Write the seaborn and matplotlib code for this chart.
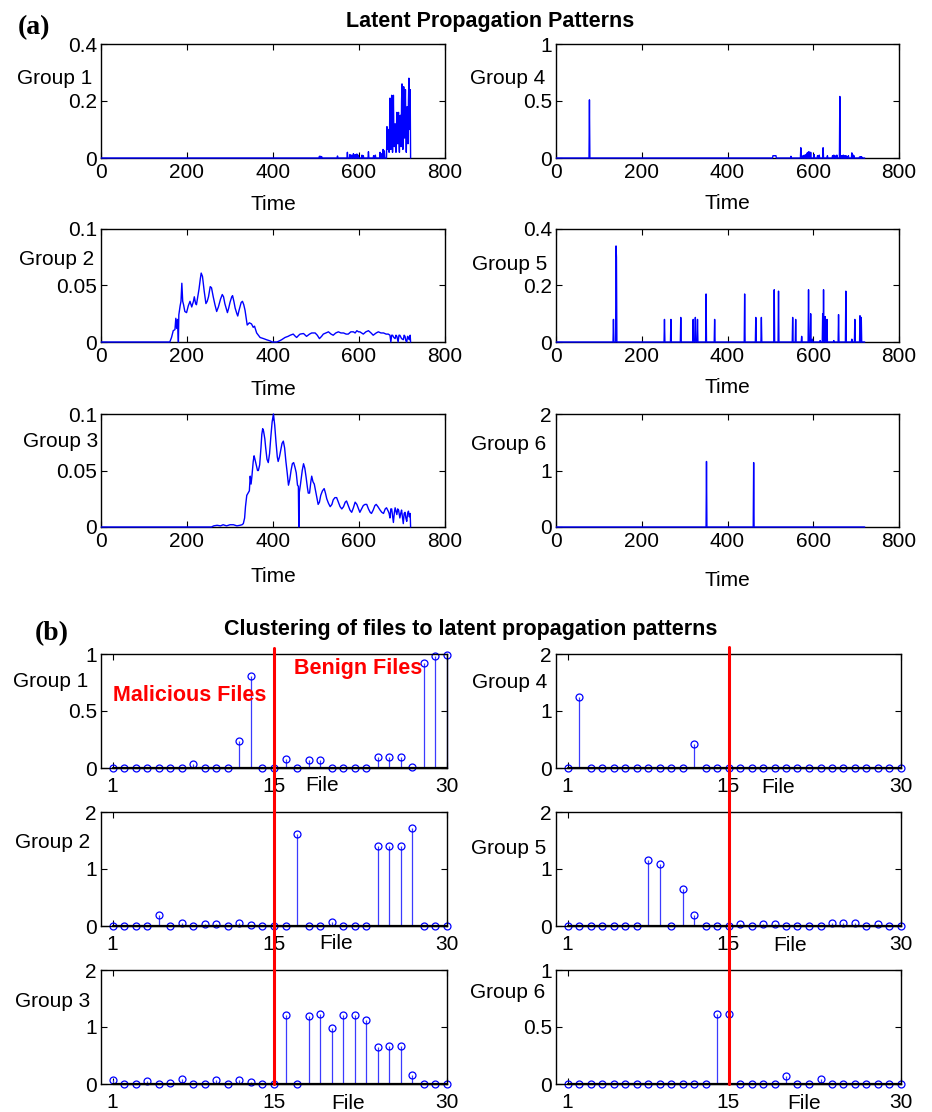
import numpy as np
import matplotlib
matplotlib.use("Agg")
import matplotlib.pyplot as plt
import matplotlib.transforms as mtransforms
from matplotlib.lines import Line2D
from matplotlib.ticker import FormatStrFormatter
import seaborn as sns

# ---------------- (a) latent propagation patterns ----------------
n_days = 720
days = np.arange(1, n_days + 1)

# group 1: small blips, then a dense burst near the end
g1_blip_t = [508, 510, 513, 550, 573, 579, 583, 587, 591, 595, 598, 607, 610, 622, 634, 638, 649, 653, 656, 659]
g1_blip_v = [0.006, 0.006, 0.005, 0.007, 0.02, 0.012, 0.01, 0.015, 0.012, 0.014, 0.01, 0.01, 0.008, 0.022,
             0.008, 0.01, 0.02, 0.015, 0.03, 0.025]
g1_burst_t = [663, 664, 665, 666, 667, 668, 670, 671, 672, 673, 674, 675, 676, 677, 678, 679, 680, 681, 682,
              684, 685, 686, 687, 688, 689, 690, 691, 692, 693, 694, 695, 696, 697, 698, 699, 700, 701, 702,
              703, 704, 705, 706, 707, 708, 709, 710, 711, 712, 713, 714, 715, 716, 717, 718, 719, 720]
g1_burst_v = [0.0, 0.0, 0.11, 0.1, 0.03, 0.1, 0.02, 0.09, 0.21, 0.05, 0.03, 0.14, 0.22, 0.1, 0.02, 0.08, 0.22,
              0.09, 0.04, 0.12, 0.05, 0.02, 0.1, 0.16, 0.08, 0.05, 0.15, 0.16, 0.06, 0.02, 0.12, 0.15, 0.07,
              0.04, 0.2, 0.26, 0.12, 0.03, 0.15, 0.25, 0.2, 0.07, 0.16, 0.24, 0.1, 0.02, 0.12, 0.18, 0.1, 0.05,
              0.2, 0.28, 0.18, 0.1, 0.24, 0.0]

# group 2: smooth wave starting around day 160
g2_t = [1, 160, 164, 168, 172, 174, 176, 178, 180, 181, 184, 186, 188, 190, 192, 195, 199, 203, 207, 211, 215,
        217, 220, 222, 226, 228, 231, 233, 236, 240, 244, 247, 250, 254, 257, 261, 265, 269, 273, 278, 282,
        285, 288, 294, 297, 300, 304, 306, 309, 312, 316, 318, 321, 326, 329, 332, 335, 338, 340, 345, 350,
        354, 357, 362, 366, 370, 378, 385, 393, 398, 409, 415, 420, 428, 435, 440, 447, 452, 455, 460, 463,
        471, 475, 478, 485, 490, 498, 503, 508, 513, 517, 523, 529, 535, 540, 546, 552, 558, 564, 570, 575,
        581, 587, 591, 595, 599, 602, 606, 610, 616, 622, 628, 633, 640, 645, 651, 657, 663, 668, 672, 674,
        676, 678, 681, 684, 686, 688, 691, 693, 695, 699, 703, 705, 707, 709, 711, 713, 715, 717, 719, 720]
g2_v = [0, 0, 0.004, 0.01, 0.011, 0.021, 0.012, 0.02, 0.0, 0.024, 0.032, 0.036, 0.052, 0.036, 0.033, 0.027,
        0.026, 0.032, 0.036, 0.031, 0.036, 0.04, 0.034, 0.033, 0.042, 0.047, 0.056, 0.061, 0.058, 0.045, 0.034,
        0.036, 0.04, 0.049, 0.048, 0.04, 0.033, 0.027, 0.031, 0.038, 0.042, 0.04, 0.034, 0.026, 0.03, 0.035,
        0.04, 0.041, 0.036, 0.03, 0.025, 0.023, 0.028, 0.035, 0.036, 0.033, 0.028, 0.02, 0.015, 0.017, 0.016,
        0.013, 0.014, 0.008, 0.006, 0.004, 0.003, 0.002, 0.001, 0.0, 0.0, 0.001, 0.002, 0.004, 0.005, 0.006,
        0.007, 0.005, 0.004, 0.006, 0.007, 0.0075, 0.006, 0.005, 0.007, 0.008, 0.008, 0.006, 0.003, 0.005,
        0.007, 0.008, 0.009, 0.007, 0.006, 0.008, 0.009, 0.008, 0.008, 0.007, 0.007, 0.009, 0.009, 0.008, 0.01,
        0.009, 0.009, 0.008, 0.007, 0.009, 0.01, 0.008, 0.006, 0.008, 0.009, 0.008, 0.008, 0.007, 0.007, 0.006,
        0.0, 0.006, 0.006, 0.004, 0.003, 0.006, 0.005, 0.0, 0.006, 0.006, 0.003, 0.002, 0.006, 0.005, 0.001,
        0.0, 0.005, 0.004, 0.002, 0.006, 0.0]

# group 3: wave peaking around day 400
g3_t = [1, 257, 262, 270, 278, 284, 292, 300, 308, 316, 323, 328, 331, 334, 336, 339, 342, 345, 347, 349, 351,
        354, 356, 358, 361, 364, 366, 369, 372, 374, 376, 378, 381, 383, 386, 389, 392, 395, 398, 401, 404,
        407, 410, 412, 415, 418, 421, 424, 427, 430, 433, 436, 439, 442, 445, 448, 451, 454, 457, 459, 460,
        461, 464, 468, 471, 474, 477, 480, 482, 485, 488, 490, 493, 496, 499, 502, 505, 508, 511, 515, 519,
        522, 525, 529, 533, 537, 540, 544, 548, 552, 556, 560, 564, 568, 571, 575, 579, 583, 587, 591, 595,
        599, 602, 606, 610, 614, 618, 622, 626, 629, 633, 637, 640, 644, 649, 653, 657, 661, 664, 668, 670,
        672, 674, 676, 678, 680, 682, 684, 686, 688, 690, 692, 695, 697, 699, 701, 703, 705, 707, 709, 711,
        713, 715, 717, 719, 720]
g3_v = [0, 0, 0.001, 0.0015, 0.001, 0.002, 0.001, 0.002, 0.002, 0.001, 0.0015, 0.002, 0.003, 0.008, 0.018,
        0.028, 0.03, 0.032, 0.045, 0.038, 0.045, 0.058, 0.063, 0.06, 0.055, 0.05, 0.05, 0.055, 0.07, 0.082,
        0.087, 0.085, 0.078, 0.07, 0.06, 0.057, 0.065, 0.08, 0.093, 0.1, 0.09, 0.075, 0.062, 0.058, 0.062,
        0.068, 0.074, 0.076, 0.07, 0.058, 0.048, 0.037, 0.042, 0.05, 0.056, 0.057, 0.053, 0.048, 0.037, 0.036,
        0.0, 0.03, 0.038, 0.05, 0.056, 0.052, 0.044, 0.035, 0.03, 0.03, 0.04, 0.045, 0.04, 0.038, 0.032, 0.026,
        0.02, 0.022, 0.028, 0.032, 0.034, 0.03, 0.025, 0.021, 0.018, 0.02, 0.024, 0.026, 0.026, 0.022, 0.018,
        0.016, 0.018, 0.022, 0.023, 0.019, 0.015, 0.013, 0.017, 0.022, 0.02, 0.016, 0.013, 0.016, 0.019, 0.02,
        0.02, 0.016, 0.013, 0.012, 0.015, 0.019, 0.02, 0.018, 0.015, 0.013, 0.012, 0.016, 0.017, 0.014, 0.012,
        0.008, 0.016, 0.016, 0.01, 0.004, 0.012, 0.017, 0.014, 0.011, 0.016, 0.015, 0.008, 0.012, 0.015, 0.009,
        0.003, 0.012, 0.013, 0.008, 0.005, 0.012, 0.014, 0.009, 0.012, 0.0]

# groups 4-6: isolated spikes (day, height)
g4_spike_t = [78, 506, 507, 508, 509, 510, 511, 512, 513, 548, 571, 576, 579, 583, 586, 588, 590, 594,
              602, 610, 614, 623, 633, 645, 648, 651, 655, 662, 666, 668, 670, 672, 674, 676, 678, 682,
              690, 692, 695, 708, 711, 713]
g4_spike_v = [0.51, 0.02, 0.02, 0.02, 0.02, 0.02, 0.02, 0.02, 0.02, 0.015, 0.09, 0.02, 0.025, 0.03, 0.045,
              0.05, 0.055, 0.05, 0.03, 0.02, 0.025, 0.09, 0.02, 0.02, 0.025, 0.02, 0.025, 0.54, 0.02, 0.015,
              0.025, 0.02, 0.015, 0.02, 0.015, 0.02, 0.045, 0.03, 0.02, 0.01, 0.012, 0.01]
g5_spike_t = [134, 140, 141, 253, 268, 291, 320, 325, 330, 350, 370, 440, 466, 479, 509, 519, 552, 559, 573,
              589, 594, 598, 616, 622, 624, 628, 632, 648, 659, 676, 690, 697, 709, 712]
g5_spike_v = [0.08, 0.34, 0.3, 0.08, 0.08, 0.087, 0.08, 0.087, 0.08, 0.17, 0.08, 0.17, 0.087, 0.087, 0.185,
              0.18, 0.087, 0.08, 0.02, 0.185, 0.1, 0.01, 0.005, 0.1, 0.185, 0.09, 0.08, 0.005, 0.097, 0.18,
              0.01, 0.08, 0.093, 0.087]
g6_spike_t = [351, 461]
g6_spike_v = [1.16, 1.14]

a_ylims = [0.4, 0.1, 0.1, 1, 0.4, 2]
a_yticks = [[0, 0.2, 0.4], [0, 0.05, 0.1], [0, 0.05, 0.1], [0, 0.5, 1], [0, 0.2, 0.4], [0, 1, 2]]
time_ticks = [0, 200, 400, 600, 800]

# ---------------- (b) clustering of files ----------------
files = np.arange(1, 31)
b_g1 = [0, 0, 0, 0, 0, 0, 0, 0.035, 0, 0, 0, 0.24, 0.81, 0, 0, 0.076, 0, 0.073, 0.07, 0,
        0, 0, 0, 0.1, 0.1, 0.1, 0.01, 0.92, 0.985, 0.99]
b_g2 = [0, 0, 0, 0, 0.2, 0, 0.06, 0, 0.03, 0.04, 0, 0.05, 0.01, 0, 0, 0, 1.62, 0, 0, 0.07,
        0, 0, 0, 1.40, 1.41, 1.41, 1.72, 0, 0, 0]
b_g3 = [0.07, 0, 0, 0.045, 0, 0.02, 0.09, 0, 0, 0.07, 0, 0.075, 0.035, 0, 0, 1.21, 0, 1.19, 1.22, 0.99,
        1.21, 1.21, 1.12, 0.65, 0.66, 0.66, 0.16, 0, 0, 0]
b_g4 = [0, 1.24, 0, 0, 0, 0, 0, 0, 0, 0, 0, 0.42, 0, 0, 0, 0.005, 0, 0.005, 0.005, 0,
        0, 0, 0, 0.005, 0.005, 0.005, 0, 0, 0, 0]
b_g5 = [0, 0, 0, 0, 0, 0, 0, 1.16, 1.08, 0, 0.65, 0.2, 0, 0, 0, 0.035, 0, 0.035, 0.03, 0,
        0, 0, 0, 0.06, 0.05, 0.05, 0, 0.04, 0, 0]
b_g6 = [0, 0, 0, 0, 0, 0, 0, 0, 0, 0, 0, 0, 0, 0.61, 0.61, 0, 0, 0, 0, 0.07,
        0, 0, 0.04, 0, 0, 0, 0, 0, 0, 0]
b_ylims = [1, 2, 2, 2, 2, 1]
b_yticks = [[0, 0.5, 1], [0, 1, 2], [0, 1, 2], [0, 1, 2], [0, 1, 2], [0, 0.5, 1]]
file_ticks = [1, 15, 30]
split_file = 15

group_names = ["Group 1", "Group 2", "Group 3", "Group 4", "Group 5", "Group 6"]


def spike_series(times, heights):
    v = np.zeros(n_days)
    v[np.asarray(times) - 1] = heights
    return v


g1_grid = spike_series(g1_blip_t, g1_blip_v)
a_series = [
    (np.concatenate([days[:662], g1_burst_t]), np.concatenate([g1_grid[:662], g1_burst_v])),
    (np.array(g2_t), np.array(g2_v)),
    (np.array(g3_t), np.array(g3_v)),
    (days, spike_series(g4_spike_t, g4_spike_v)),
    (days, spike_series(g5_spike_t, g5_spike_v)),
    (days, spike_series(g6_spike_t, g6_spike_v)),
]
b_series = [b_g1, b_g2, b_g3, b_g4, b_g5, b_g6]

sns.set_style("ticks", {"axes.edgecolor": "black", "text.color": "black", "xtick.color": "black",
                        "ytick.color": "black", "axes.labelcolor": "black"})
plt.rcParams["font.family"] = ["Liberation Sans", "DejaVu Sans"]

FS = 15  # tick / axis label size
W, H = 932, 1112
fig = plt.figure(figsize=(W / 100, H / 100), dpi=100)


def px_axes(x0, y0, x1, y1):
    return fig.add_axes([x0 / W, 1 - y1 / H, (x1 - x0) / W, (y1 - y0) / H])


def matlab_look(ax, xpad):
    ax.tick_params(axis="both", direction="in", length=4, width=0.8, top=True, right=True,
                   labelsize=FS, colors="black")
    ax.tick_params(axis="y", pad=3)
    ax.tick_params(axis="x", pad=xpad)
    for s in ax.spines.values():
        s.set_visible(True)
        s.set_linewidth(1.0)
        s.set_color("black")
    ax.yaxis.set_major_formatter(FormatStrFormatter("%g"))
    ax.xaxis.set_major_formatter(FormatStrFormatter("%g"))


a_rows = [(44, 158), (229, 342), (414, 527)]
a_cols = [(101, 445), (556, 899)]
b_rows = [(654, 768), (812, 926), (970, 1084)]
b_cols = [(101, 447), (556, 901)]

a_ylab = [(-0.026, 0.70), (-0.020, 0.73), (-0.009, 0.76), (-0.032, 0.70), (-0.026, 0.69), (-0.029, 0.73)]
a_xlab = [-0.41, -0.42, -0.44, -0.40, -0.40, -0.47]
b_ylab = [(-0.038, 0.76), (-0.032, 0.73), (-0.032, 0.72), (-0.026, 0.75), (-0.029, 0.68), (-0.032, 0.80)]
b_xlab = [(0.639, -0.15), (0.679, -0.15), (0.714, -0.167), (0.643, -0.167), (0.678, -0.167), (0.719, -0.175)]

# ---- part (a) ----
for i in range(6):
    col, row = divmod(i, 3)
    ax = px_axes(a_cols[col][0], a_rows[row][0], a_cols[col][1], a_rows[row][1])
    t, v = a_series[i]
    sns.lineplot(x=t, y=v, ax=ax, color="#0000ff", linewidth=1.0, estimator=None, sort=False,
                 zorder=3, clip_on=False)
    ax.set_xlim(0, 800)
    ax.set_ylim(0, a_ylims[i])
    ax.set_xticks(time_ticks)
    ax.set_yticks(a_yticks[i])
    matlab_look(ax, 3.5)
    ax.set_xlabel("Time", fontsize=FS, va="center")
    ax.xaxis.set_label_coords(0.5, a_xlab[i])
    ax.set_ylabel(group_names[i], fontsize=FS, rotation=0, ha="right", va="center")
    ax.yaxis.set_label_coords(*a_ylab[i])

# ---- part (b) ----
b_axes = {}
for i in range(6):
    col, row = divmod(i, 3)
    ax = px_axes(b_cols[col][0], b_rows[row][0], b_cols[col][1], b_rows[row][1])
    b_axes[(col, row)] = ax
    ml, sl, bl = ax.stem(files, b_series[i], linefmt="-", markerfmt="o", basefmt="k-")
    plt.setp(sl, color="#3b3bff", linewidth=0.9)
    plt.setp(ml, markerfacecolor="none", markeredgecolor="#0000ff", markersize=5, markeredgewidth=0.9)
    plt.setp(bl, color="black", linewidth=1.6)
    for art in (ml, sl, bl):
        art.set_clip_on(False)
    ax.set_xlim(0, 30)
    ax.set_ylim(0, b_ylims[i])
    ax.set_xticks(file_ticks)
    ax.set_yticks(b_yticks[i])
    matlab_look(ax, 6.5)
    ax.set_xlabel("File", fontsize=FS, ha="center", va="center")
    ax.xaxis.set_label_coords(*b_xlab[i])
    ax.set_ylabel(group_names[i], fontsize=FS, rotation=0, ha="right", va="center")
    ax.yaxis.set_label_coords(*b_ylab[i])

ax_b1 = b_axes[(0, 0)]
ax_b1.text(0.257, 0.64, "Malicious Files", transform=ax_b1.transAxes, color="red", fontsize=15.5,
           fontweight="bold", ha="center", va="center")
ax_b1.text(0.743, 0.877, "Benign Files", transform=ax_b1.transAxes, color="red", fontsize=15.5,
           fontweight="bold", ha="center", va="center")

# red divider between malicious and benign files, running through all three rows
for col, (y_top, y_bot) in enumerate([(648, 1084), (647, 1084)]):
    trans = mtransforms.blended_transform_factory(b_axes[(col, 0)].transData, fig.transFigure)
    fig.add_artist(Line2D([split_file, split_file], [1 - y_top / H, 1 - y_bot / H], transform=trans,
                          color="red", linewidth=2.2, zorder=5))

fig.text(490 / W, 1 - 22 / H, "Latent Propagation Patterns", fontsize=15.5, fontweight="bold",
         ha="center", va="center")
fig.text(471 / W, 1 - 630 / H, "Clustering of files to latent propagation patterns", fontsize=15.5,
         fontweight="bold", ha="center", va="center")
fig.text(34 / W, 1 - 28 / H, "(a)", fontsize=20, fontweight="bold", family="Liberation Serif",
         ha="center", va="center")
fig.text(52 / W, 1 - 634 / H, "(b)", fontsize=20, fontweight="bold", family="Liberation Serif",
         ha="center", va="center")

fig.savefig("out.png", dpi=100)
